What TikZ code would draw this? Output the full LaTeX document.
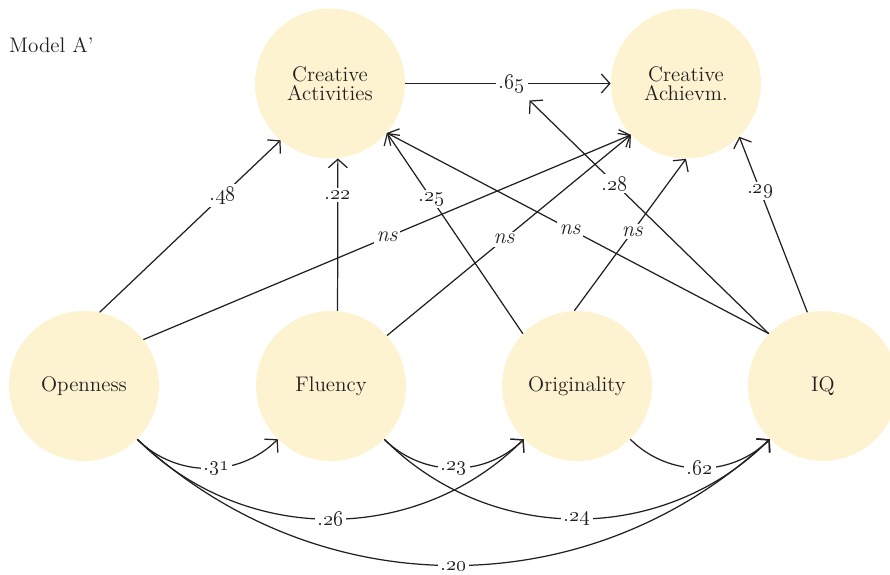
\documentclass[tikz,border=0pt]{standalone}
\usetikzlibrary{arrows.meta}
\definecolor{latentfill}{RGB}{254,243,208}
\definecolor{inkgray}{RGB}{35,31,32}
\newcommand{\pathcoef}[1]{\oldstylenums{#1}}
\tikzset{
  % Path model
  latent/.style  = { circle, fill=latentfill, minimum size=3cm, inner sep=0,
                      align=center, font=\large, text=inkgray },
  regpath/.style = { line width=0.7pt, draw=inkgray,
                      -{Straight Barb[length=1.7mm, width=3.8mm]} },
  coef/.style    = { font=\fontsize{12.5}{15}\selectfont, fill=white, inner sep=1.5pt, text=inkgray },
  modeltitle/.style = { font=\large, text=inkgray, anchor=west }
}
\begin{document}
\begin{tikzpicture}
  \useasboundingbox (0,0) rectangle (17.8,11.5);

  \node[modeltitle] (model) at (0.06,10.6) {Model A’};

  \node[latent] (activ)  at (6.60,9.83)  {Creative\\[-3pt]Activities};
  \node[latent] (achiev) at (13.72,9.83) {Creative\\[-3pt]Achievm.};

  \node[latent] (open)  at (1.68,3.78)  {Openness};
  \node[latent] (fluen) at (6.62,3.78)  {Fluency};
  \node[latent] (orig)  at (11.54,3.78) {Originality};
  \node[latent] (iq)    at (16.46,3.78) {IQ};

  % --- paths into Creative Activities ------------------------------
  \draw[regpath] (open.78)   -- node[coef, pos=0.68]{\pathcoef{.48}} (activ.229);
  \draw[regpath] (fluen.85)  -- node[coef, pos=0.76]{\pathcoef{.22}} (activ.276);
  \draw[regpath] (orig.136)  -- node[coef, pos=0.67]{\pathcoef{.25}} (activ.-41);
  \draw[regpath] (iq.136)    -- node[coef, pos=0.52]{\textit{ns}} (activ.-41);

  \draw[regpath] (activ) -- node[coef, pos=0.52] (mod) {\pathcoef{.65}} (achiev);

  % --- paths into Creative Achievement -----------------------------
  \draw[regpath] (open.38)   -- node[coef, pos=0.50]{\textit{ns}} (achiev.223);
  \draw[regpath] (fluen.42)  -- node[coef, pos=0.48]{\textit{ns}} (achiev.223);
  \draw[regpath] (orig.92)   -- node[coef, pos=0.52]{\textit{ns}} (achiev.270);
  \draw[regpath] (iq.102)    -- node[coef, pos=0.69]{\pathcoef{.29}} (achiev.-45);

  % IQ moderates the activities -> achievement path
  \draw[regpath, shorten >=4pt] (iq.136) -- node[coef, pos=0.63]{\pathcoef{.28}} (mod);

  % --- paths among the predictors ----------------------------------
  \draw[regpath] (open.-45)  to[bend right=45] node[coef, pos=0.56]{\pathcoef{.31}} (fluen.-135);
  \draw[regpath] (fluen.-45) to[bend right=45] node[coef]{\pathcoef{.23}} (orig.-135);
  \draw[regpath] (orig.-45)  to[bend right=45] node[coef]{\pathcoef{.62}} (iq.-135);
  \draw[regpath] (open.-45)  to[bend right=45] node[coef]{\pathcoef{.26}} (orig.-135);
  \draw[regpath] (fluen.-45) to[bend right=45] node[coef]{\pathcoef{.24}} (iq.-135);
  \draw[regpath] (open.-45)  to[bend right=43] node[coef]{\pathcoef{.20}} (iq.-135);

\end{tikzpicture}
\end{document}
